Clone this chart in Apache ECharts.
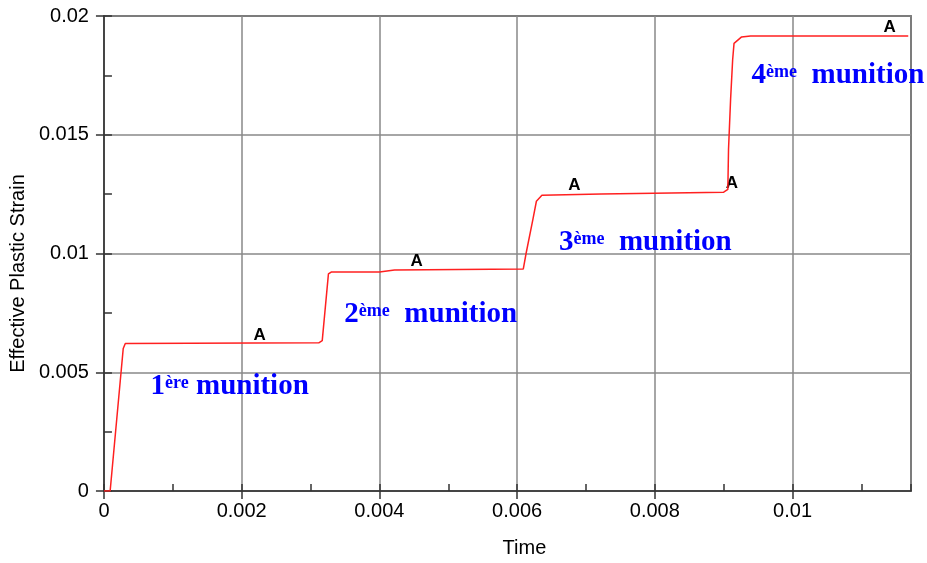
<!DOCTYPE html>
<html>
<head>
<meta charset="utf-8">
<script src="https://cdn.jsdelivr.net/npm/echarts@6/dist/echarts.min.js"></script>
<style>
  html, body { margin: 0; padding: 0; background: #fff; }
  #chart { width: 927px; height: 563px; }
</style>
</head>
<body>
<div id="chart"></div>
<script>
  // curve
  const timeValues = [0, 0.00009, 0.00028, 0.00031, 0.00312, 0.00317, 0.00326, 0.0033, 0.0040, 0.00422,
    0.00609, 0.00613, 0.00623, 0.00628, 0.00636, 0.00722, 0.0090, 0.00906, 0.00907, 0.0091,
    0.00913, 0.00915, 0.00926, 0.00939, 0.01168]
  const strainValues = [0, 0, 0.0060, 0.00621, 0.00624, 0.00633, 0.00914, 0.00922, 0.00922, 0.00931,
    0.00935, 0.0100, 0.01145, 0.0122, 0.01245, 0.01251, 0.01258, 0.0127, 0.01438, 0.01648,
    0.01816, 0.01885, 0.01912, 0.01916, 0.01916]

  // "A" markers on the curve
  const markerTime = [0.00226, 0.00454, 0.00683, 0.00912, 0.01141]
  const markerStrain = [0.00621, 0.00932, 0.01252, 0.01258, 0.01916]

  // annotations
  const noteTime = [0.001826, 0.004746, 0.007862, 0.01066]
  const noteStrain = [0.0044, 0.00742, 0.01046, 0.01748]
  const noteNumber = ['1', '2', '3', '4']
  const noteSuffix = ['ère', 'ème', 'ème', 'ème']
  const noteGap = [' ', '  ', '  ', '  ']

  const xTicks = {min: 0, max: 0.01172, interval: 0.002}
  const yTicks = {min: 0, max: 0.02, interval: 0.005}

  const fmt = v => v === 0 ? '0' : String(+v.toFixed(4))

  let chart = echarts.init(document.getElementById('chart'))
  let option = {
    animation: false,
    backgroundColor: '#fff',
    grid: {
      left: 102,
      right: 16,
      top: 16,
      bottom: 70,
      show: true,
      borderColor: '#222',
      borderWidth: 1.5
    },
    xAxis: [
      {
        type: 'value',
        min: xTicks.min,
        max: xTicks.max,
        interval: xTicks.interval,
        position: 'bottom',
        name: 'Time',
        nameLocation: 'middle',
        nameGap: 47,
        nameTextStyle: {
          fontFamily: 'Liberation Sans',
          fontSize: 20,
          color: '#000',
          padding: [0, 0, 0, 34]
        },
        axisLine: {lineStyle: {color: '#333', width: 1.5}},
        axisTick: {show: true, inside: false, length: 8, lineStyle: {color: '#333', width: 1.5}},
        axisLabel: {
          fontFamily: 'Liberation Sans',
          fontSize: 20,
          color: '#000',
          margin: 10,
          showMaxLabel: false,
          formatter: fmt
        },
        splitLine: {show: true, lineStyle: {color: '#888', width: 1.5}}
      },
      {
        type: 'value',
        min: xTicks.min,
        max: xTicks.max,
        interval: 0.001,
        position: 'bottom',
        axisLine: {show: false},
        axisTick: {show: true, inside: true, length: 7, lineStyle: {color: '#333', width: 1.5}},
        axisLabel: {show: false},
        splitLine: {show: false}
      }
    ],
    yAxis: [
      {
        type: 'value',
        min: yTicks.min,
        max: yTicks.max,
        interval: yTicks.interval,
        position: 'left',
        name: 'Effective Plastic Strain',
        nameLocation: 'middle',
        nameGap: 69,
        nameTextStyle: {
          fontFamily: 'Liberation Sans',
          fontSize: 20,
          color: '#000',
          padding: [0, 40, 0, 0]
        },
        axisLine: {show: true, lineStyle: {color: '#333', width: 1.5}},
        axisTick: {show: true, inside: false, length: 8, lineStyle: {color: '#333', width: 1.5}},
        axisLabel: {
          fontFamily: 'Liberation Sans',
          fontSize: 20,
          color: '#000',
          margin: 15,
          formatter: fmt
        },
        splitLine: {show: true, lineStyle: {color: '#888', width: 1.5}}
      },
      {
        type: 'value',
        min: yTicks.min,
        max: yTicks.max,
        interval: 0.0025,
        position: 'left',
        axisLine: {show: false},
        axisTick: {show: true, inside: true, length: 8, lineStyle: {color: '#333', width: 1.5}},
        axisLabel: {show: false},
        splitLine: {show: false}
      }
    ],
    series: [
      {
        name: 'strain',
        type: 'line',
        xAxisIndex: 0,
        yAxisIndex: 0,
        symbol: 'none',
        lineStyle: {color: '#ff2020', width: 1.5},
        data: timeValues.map((t, i) => [t, strainValues[i]])
      },
      {
        name: 'markers',
        type: 'scatter',
        xAxisIndex: 0,
        yAxisIndex: 0,
        symbolSize: 0,
        silent: true,
        itemStyle: {opacity: 1},
        label: {
          show: true,
          position: 'top',
          distance: 0,
          formatter: 'A',
          fontFamily: 'Liberation Sans',
          fontWeight: 'bold',
          fontSize: 17,
          color: '#000'
        },
        data: markerTime.map((t, i) => [t, markerStrain[i]])
      },
      {
        name: 'notes',
        type: 'scatter',
        xAxisIndex: 0,
        yAxisIndex: 0,
        symbolSize: 0,
        silent: true,
        clip: false,
        itemStyle: {opacity: 1},
        label: {
          show: true,
          position: 'inside',
          formatter: p => '{n|' + noteNumber[p.dataIndex] + '}{s|' + noteSuffix[p.dataIndex] + '}{n|' + noteGap[p.dataIndex] + 'munition}',
          rich: {
            n: {
              fontFamily: 'Liberation Serif',
              fontWeight: 'bold',
              fontSize: 29,
              color: '#0000ff'
            },
            s: {
              fontFamily: 'Liberation Serif',
              fontWeight: 'bold',
              fontSize: 18,
              color: '#0000ff',
              verticalAlign: 'top',
              padding: [2, 0, 0, 0]
            }
          }
        },
        data: noteTime.map((t, i) => [t, noteStrain[i]])
      }
    ]
  }
  chart.setOption(option)
</script>
</body>
</html>
